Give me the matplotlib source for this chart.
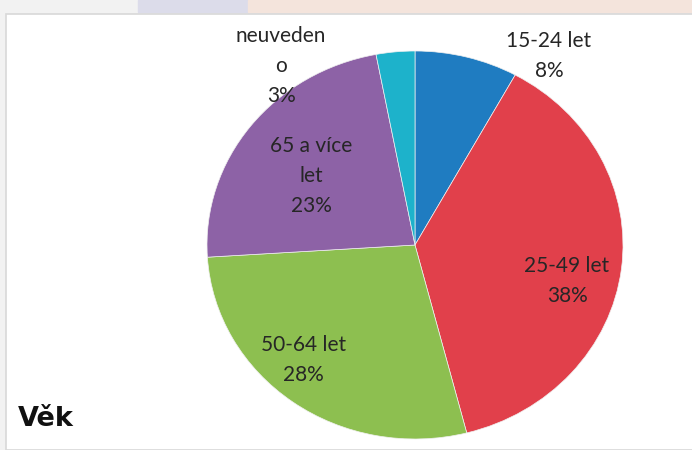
import matplotlib.pyplot as plt
from matplotlib.patches import Rectangle

# data
labels = ["15-24 let", "25-49 let", "50-64 let", "65 a více\nlet", "neuveden\no"]
values = [8, 38, 28, 23, 3]
colors = ["#1f7cc1", "#e1404b", "#8dbf50", "#8d62a6", "#1db2cb"]
title = "Věk"

plt.rcParams['font.family'] = ['Lato', 'DejaVu Sans']

fig = plt.figure(figsize=(6.92, 4.5), dpi=100)
W, H = 692, 450

# background strip at top + panel frame
fig.patches.append(Rectangle((0, 0), 1, 1, transform=fig.transFigure, color="#f2f2f2", zorder=-5))
fig.patches.append(Rectangle((138 / W, 1 - 12 / H), 110 / W, 12 / H, transform=fig.transFigure,
                             color="#dcdcea", zorder=-4))
fig.patches.append(Rectangle((248 / W, 1 - 12 / H), 1, 12 / H, transform=fig.transFigure,
                             color="#f4e4dc", zorder=-4))
fig.patches.append(Rectangle((6 / W, 0), 1, 1 - 14 / H, transform=fig.transFigure,
                             facecolor="white", edgecolor="#d8d8d8", lw=1.2, zorder=-3))

# pie axes (slightly elliptical like the original)
ax = fig.add_axes([207 / W, 11 / H, 416 / W, 388 / H])
wedges, texts = ax.pie(values, colors=colors, startangle=90, counterclock=False,
                       wedgeprops=dict(linewidth=0.5, edgecolor="#f0f0f0"))
ax.set_aspect('auto')
ax.set_xlim(-1, 1)
ax.set_ylim(-1, 1)
ax.axis('off')

# label positions in data coords
label_pos = [(0.644, 0.974), (0.731, -0.186), (-0.538, -0.593), (-0.50, 0.356), (-0.644, 0.923)]
for lab, v, (x, y) in zip(labels, values, label_pos):
    ax.text(x, y, f"{lab}\n{v}%", ha="center", va="center", fontsize=15,
            color="#262626", linespacing=1.65)

fig.text(18 / W, 1 - 419 / H, title, fontsize=19.5, fontweight="bold",
         family="DejaVu Sans", color="#111111", va="center", ha="left")

fig.savefig("out.png", dpi=100)
